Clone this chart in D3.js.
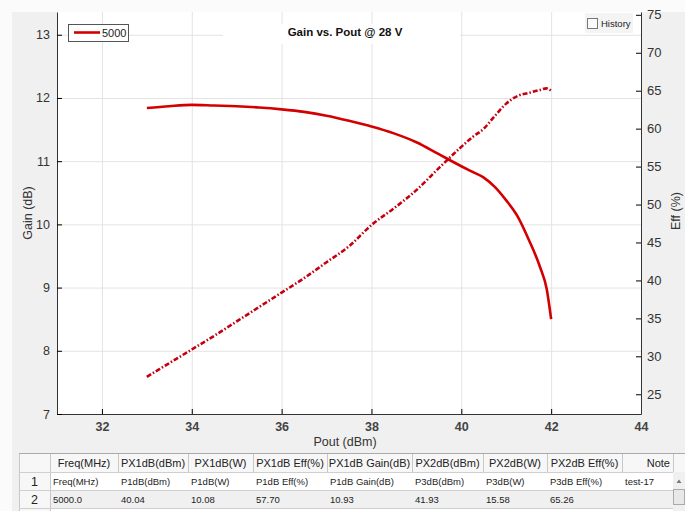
<!DOCTYPE html>
<html>
<head>
<meta charset="utf-8">
<script src="https://cdn.jsdelivr.net/npm/d3@7"></script>
<style>
  body { margin: 0; background: #fbfbfb; }
  svg { display: block; font-family: "Liberation Sans", Arial, sans-serif; }
</style>
</head>
<body>
<svg id="chart" width="685" height="511"></svg>
<script>
// measured curve at 5000 MHz
var pout = [33, 33.5, 34, 34.5, 35, 35.5, 36, 36.5, 37, 37.5, 38, 38.5, 39, 39.5, 40, 40.25, 40.5, 40.75, 41, 41.25, 41.5, 41.75, 41.9, 42.0];
var gain = [11.84, 11.87, 11.89, 11.88, 11.87, 11.85, 11.82, 11.78, 11.72, 11.64, 11.55, 11.44, 11.30, 11.11, 10.92, 10.83, 10.74, 10.59, 10.38, 10.13, 9.76, 9.33, 8.98, 8.50];
var eff = [27.3, 29.1, 30.9, 32.7, 34.6, 36.5, 38.4, 40.3, 42.4, 44.5, 47.3, 49.5, 51.9, 54.8, 57.6, 58.9, 60.0, 61.7, 63.3, 64.3, 64.7, 65.1, 65.3, 65.0];

var xTicks = [32, 34, 36, 38, 40, 42, 44];
var gainTicks = [7, 8, 9, 10, 11, 12, 13];
var effTicks = [25, 30, 35, 40, 45, 50, 55, 60, 65, 70, 75];

var headers = ["", "Freq(MHz)", "PX1dB(dBm)", "PX1dB(W)", "PX1dB Eff(%)", "PX1dB Gain(dB)", "PX2dB(dBm)", "PX2dB(W)", "PX2dB Eff(%)", "Note"];
var row1 = ["1", "Freq(MHz)", "P1dB(dBm)", "P1dB(W)", "P1dB Eff(%)", "P1dB Gain(dB)", "P3dB(dBm)", "P3dB(W)", "P3dB Eff(%)", "test-17"];
var row2 = ["2", "5000.0", "40.04", "10.08", "57.70", "10.93", "41.93", "15.58", "65.26", ""];
var colEdges = [19, 50, 118, 188, 253, 327, 412, 483, 547, 622, 673];

var svg = d3.select("#chart");
var pL = 57, pR = 641, pT = 12, pB = 414;
var red = "#d40000";

svg.append("rect").attr("x", 12).attr("y", 12).attr("width", 673).attr("height", 499).attr("fill", "#f0f0f0");
svg.append("rect").attr("x", pL).attr("y", pT).attr("width", pR - pL).attr("height", pB - pT).attr("fill", "#fff");

var x = d3.scaleLinear().domain([31, 44]).range([pL, pR]);
var yG = d3.scaleLinear().domain([7, 13.36]).range([pB, pT]);
var yE = d3.scaleLinear().domain([22.4, 75.37]).range([pB, pT]);

// grid
svg.append("g").attr("transform", "translate(0," + pB + ")")
  .call(d3.axisBottom(x).tickValues(xTicks.slice(0, -1)).tickSize(-(pB - pT)).tickFormat(""))
  .call(g => g.select(".domain").remove())
  .selectAll("line").attr("stroke", "#e3e3e3");
svg.append("g").attr("transform", "translate(" + pL + ",0)")
  .call(d3.axisLeft(yG).tickValues(gainTicks.slice(1)).tickSize(-(pR - pL)).tickFormat(""))
  .call(g => g.select(".domain").remove())
  .selectAll("line").attr("stroke", "#e3e3e3");

// title backing box hides the grid line
svg.append("rect").attr("x", 223).attr("y", 24).attr("width", 237).attr("height", 20).attr("fill", "#fff");
svg.append("text").attr("x", 345).attr("y", 36).attr("text-anchor", "middle")
  .attr("font-size", 11.5).attr("font-weight", "bold").attr("fill", "#111").text("Gain vs. Pout @ 28 V");

// axes
var gx = svg.append("g").attr("transform", "translate(0," + pB + ")")
  .call(d3.axisBottom(x).tickValues(xTicks).tickSize(-5).tickPadding(8).tickSizeOuter(0));
gx.selectAll("text").attr("font-size", 12.5).attr("font-weight", "bold").attr("fill", "#444");

var gl = svg.append("g").attr("transform", "translate(" + pL + ",0)")
  .call(d3.axisLeft(yG).tickValues(gainTicks).tickFormat(d3.format("d")).tickSize(-5).tickPadding(7).tickSizeOuter(0));
gl.selectAll("text").attr("font-size", 12.5).attr("fill", "#333");

var gr = svg.append("g").attr("transform", "translate(" + pR + ",0)")
  .call(d3.axisRight(yE).tickValues(effTicks).tickSize(-5).tickPadding(6).tickSizeOuter(0));
gr.selectAll("text").attr("font-size", 13).attr("fill", "#333");

svg.selectAll(".domain").attr("stroke", "#333");

svg.append("text").attr("x", 345).attr("y", 446).attr("text-anchor", "middle")
  .attr("font-size", 12.5).attr("fill", "#333").text("Pout (dBm)");
svg.append("text").attr("transform", "translate(32,213) rotate(-90)").attr("text-anchor", "middle")
  .attr("font-size", 12.5).attr("fill", "#333").text("Gain (dB)");
svg.append("text").attr("transform", "translate(680,211) rotate(-90)").attr("text-anchor", "middle")
  .attr("font-size", 12.5).attr("fill", "#333").text("Eff (%)");

// curves
var gainLine = d3.line().x((d, i) => x(pout[i])).y(d => yG(d)).curve(d3.curveMonotoneX);
var effLine = d3.line().x((d, i) => x(pout[i])).y(d => yE(d)).curve(d3.curveMonotoneX);

svg.append("path").datum(gain).attr("d", gainLine)
  .attr("fill", "none").attr("stroke", red).attr("stroke-width", 2.6);
svg.append("path").datum(eff).attr("d", effLine)
  .attr("fill", "none").attr("stroke", "#c40010").attr("stroke-width", 2.6)
  .attr("stroke-dasharray", "5,2,1.5,2");

// legend
svg.append("rect").attr("x", 68.5).attr("y", 24.5).attr("width", 60).attr("height", 17)
  .attr("fill", "#fff").attr("stroke", "#555");
svg.append("line").attr("x1", 74).attr("x2", 100).attr("y1", 32.5).attr("y2", 32.5)
  .attr("stroke", red).attr("stroke-width", 2.6);
svg.append("text").attr("x", 102).attr("y", 37).attr("font-size", 11).attr("fill", "#222").text("5000");

// History checkbox
svg.append("rect").attr("x", 585).attr("y", 13).attr("width", 48).attr("height", 20).attr("fill", "#f4f4f4");
svg.append("rect").attr("x", 587.5).attr("y", 18.5).attr("width", 10).attr("height", 10)
  .attr("fill", "#fafafa").attr("stroke", "#777");
svg.append("text").attr("x", 601).attr("y", 27).attr("font-size", 9.5).attr("fill", "#222").text("History");

// table
var rowY = [453, 472, 490, 508];
var tbl = svg.append("g");
tbl.append("rect").attr("x", colEdges[0]).attr("y", rowY[0]).attr("width", 685 - colEdges[0]).attr("height", 511 - rowY[0]).attr("fill", "#fff");
tbl.append("rect").attr("x", colEdges[0]).attr("y", rowY[0]).attr("width", 685 - colEdges[0]).attr("height", rowY[1] - rowY[0]).attr("fill", "#f7f7f7");
tbl.append("rect").attr("x", colEdges[0]).attr("y", rowY[2]).attr("width", colEdges[10] - colEdges[0]).attr("height", rowY[3] - rowY[2]).attr("fill", "#f0f0f0");
tbl.append("rect").attr("x", colEdges[0]).attr("y", rowY[1]).attr("width", colEdges[1] - colEdges[0]).attr("height", 511 - rowY[1]).attr("fill", "#f7f7f7");

colEdges.forEach(function (cx, i) {
  var y2 = i <= 1 || i === colEdges.length - 1 ? 511 : rowY[1];
  tbl.append("line").attr("x1", cx + 0.5).attr("x2", cx + 0.5).attr("y1", rowY[0]).attr("y2", y2).attr("stroke", "#c8c8c8");
});
rowY.forEach(function (ry) {
  tbl.append("line").attr("x1", colEdges[0]).attr("x2", colEdges[10]).attr("y1", ry + 0.5).attr("y2", ry + 0.5).attr("stroke", "#cfcfcf");
});
tbl.append("line").attr("x1", colEdges[0]).attr("x2", 685).attr("y1", rowY[0] + 0.5).attr("y2", rowY[0] + 0.5).attr("stroke", "#aaa");

headers.forEach(function (h, i) {
  if (!h) return;
  var cx = i === 9 ? colEdges[10] - 3 : (colEdges[i] + colEdges[i + 1]) / 2;
  tbl.append("text").attr("x", cx).attr("y", rowY[0] + 14).attr("text-anchor", i === 9 ? "end" : "middle")
    .attr("font-size", 11).attr("fill", "#222").text(h);
});
[row1, row2].forEach(function (row, r) {
  row.forEach(function (v, i) {
    if (i === 0) {
      tbl.append("text").attr("x", (colEdges[0] + colEdges[1]) / 2).attr("y", rowY[r + 1] + 14)
        .attr("text-anchor", "middle").attr("font-size", 12.5).attr("fill", "#222").text(v);
    } else if (v) {
      tbl.append("text").attr("x", colEdges[i] + 3).attr("y", rowY[r + 1] + 13)
        .attr("font-size", 9.5).attr("fill", "#222").text(v);
    }
  });
});

// scrollbar
tbl.append("rect").attr("x", 673).attr("y", rowY[1]).attr("width", 12).attr("height", 511 - rowY[1]).attr("fill", "#f0f0f0");
tbl.append("path").attr("d", "M676.5,483 L679,479.5 L681.5,483 Z").attr("fill", "#777");
tbl.append("rect").attr("x", 673.5).attr("y", 489.5).attr("width", 11).attr("height", 15).attr("fill", "#e8e8e8").attr("stroke", "#aaa");
</script>
</body>
</html>
